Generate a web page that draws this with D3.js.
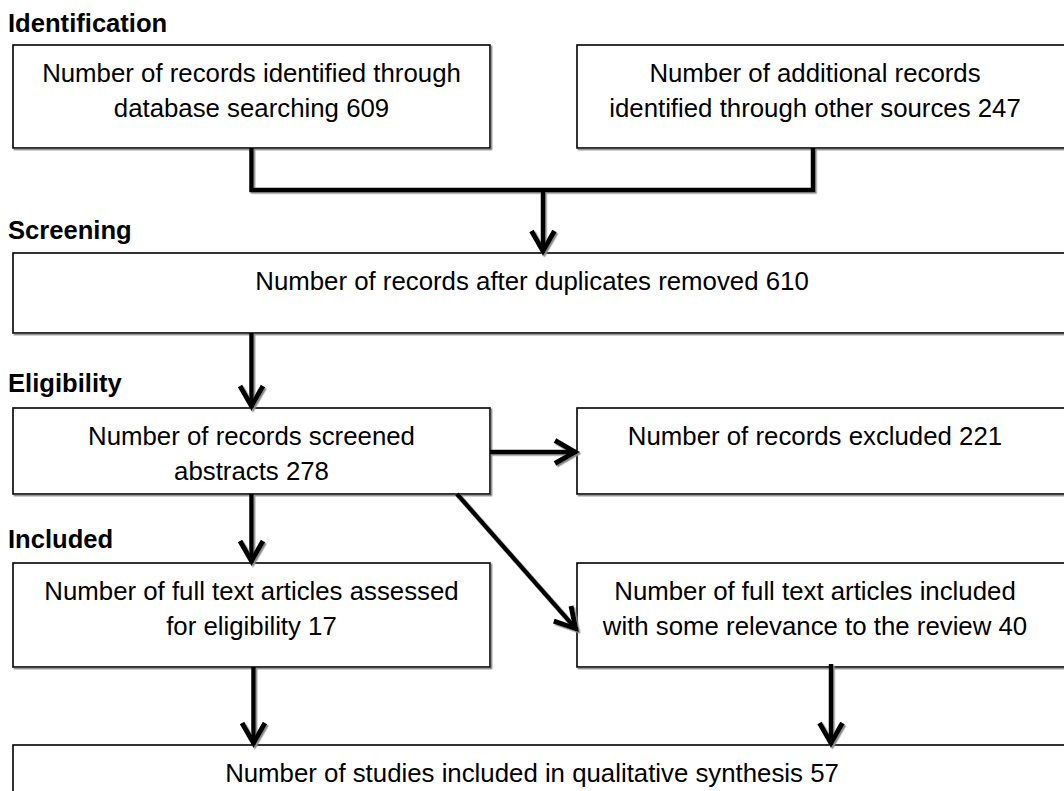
<!DOCTYPE html>
<html>
<head>
<meta charset="utf-8">
<script src="https://cdn.jsdelivr.net/npm/d3@7"></script>
<style>
  body { margin: 0; background: #fff; }
  svg { display: block; }
</style>
</head>
<body>
<div id="chart"></div>
<script>
// stage headings
var stages = ["Identification", "Screening", "Eligibility", "Included"];

// box texts (the count is added to the last line)
var boxIds = ["db", "other", "dedup", "screened", "excluded", "assessed", "relevant", "synthesis"];
var boxLines = [
  ["Number of records identified through", "database searching"],
  ["Number of additional records", "identified through other sources"],
  ["Number of records after duplicates removed"],
  ["Number of records screened", "abstracts"],
  ["Number of records excluded"],
  ["Number of full text articles assessed", "for eligibility"],
  ["Number of full text articles included", "with some relevance to the review"],
  ["Number of studies included in qualitative synthesis"]
];
var boxCounts = [609, 247, 610, 278, 221, 17, 40, 57];

// flow links between boxes
var links = [
  ["dedup", "screened"],
  ["screened", "excluded"],
  ["screened", "relevant"],
  ["screened", "assessed"],
  ["assessed", "synthesis"],
  ["relevant", "synthesis"]
];

function init() {
  var w = 1064, h = 791;

  var svg = d3.select("#chart").append("svg")
    .attr("width", w)
    .attr("height", h);

  var defs = svg.append("defs");

  var shadow = defs.append("filter")
    .attr("id", "shadow")
    .attr("x", "-10%").attr("y", "-10%")
    .attr("width", "130%").attr("height", "130%");
  shadow.append("feDropShadow")
    .attr("dx", 1.5).attr("dy", 1.5)
    .attr("stdDeviation", 0.6)
    .attr("flood-color", "#8a8a8a")
    .attr("flood-opacity", 1);

  defs.append("marker")
    .attr("id", "head")
    .attr("markerUnits", "userSpaceOnUse")
    .attr("viewBox", "-26 -15 32 30")
    .attr("markerWidth", 32).attr("markerHeight", 30)
    .attr("refX", 2).attr("refY", 0)
    .attr("orient", "auto")
    .append("path")
    .attr("d", "M-20,-11.5L0,0L-20,11.5")
    .attr("fill", "none")
    .attr("stroke", "#000")
    .attr("stroke-width", 5);

  // layout: columns and rows
  var cols = {
    left:  {x0: 13,  x1: 490,  tx: 251.5},
    right: {x0: 577, x1: 1070, tx: 815},
    wide:  {x0: 13,  x1: 1070, tx: 532}
  };
  var rows = [
    {y0: 45,  y1: 148},
    {y0: 253, y1: 333},
    {y0: 408, y1: 494},
    {y0: 563, y1: 667},
    {y0: 745, y1: 800}
  ];
  var stageBase = [32, 239, 392, 548];

  var place = {
    db: ["left", 0], other: ["right", 0],
    dedup: ["wide", 1],
    screened: ["left", 2], excluded: ["right", 2],
    assessed: ["left", 3], relevant: ["right", 3],
    synthesis: ["wide", 4]
  };

  var boxes = boxIds.map(function(id, i) {
    var c = cols[place[id][0]], r = rows[place[id][1]];
    var lines = boxLines[i].slice();
    lines[lines.length - 1] = lines[lines.length - 1] + " " + boxCounts[i];
    return {id: id, x0: c.x0, x1: c.x1, y0: r.y0, y1: r.y1, tx: c.tx, lines: lines};
  });
  var byId = {};
  boxes.forEach(function(b) { byId[b.id] = b; });

  // stage headings
  svg.selectAll("text.stage")
    .data(stages)
    .enter()
    .append("text")
    .attr("class", "stage")
    .attr("x", 8)
    .attr("y", function(d, i) { return stageBase[i]; })
    .attr("font-family", "Liberation Sans, Arial, sans-serif")
    .attr("font-weight", "bold")
    .attr("font-size", 25.6)
    .attr("fill", "#000")
    .text(function(d) { return d; });

  // boxes
  var g = svg.selectAll("g.box")
    .data(boxes)
    .enter()
    .append("g")
    .attr("class", "box");

  g.append("rect")
    .attr("x", function(d) { return d.x0; })
    .attr("y", function(d) { return d.y0; })
    .attr("width", function(d) { return d.x1 - d.x0; })
    .attr("height", function(d) { return d.y1 - d.y0; })
    .attr("fill", "#fff")
    .attr("stroke", "#000")
    .attr("stroke-width", 1.6)
    .attr("filter", "url(#shadow)");

  g.each(function(d) {
    d3.select(this).selectAll("text")
      .data(d.lines)
      .enter()
      .append("text")
      .attr("x", d.tx)
      .attr("y", function(t, j) { return d.y0 + 36.5 + j * 35; })
      .attr("text-anchor", "middle")
      .attr("font-family", "Liberation Sans, Arial, sans-serif")
      .attr("font-size", 25.8)
      .attr("fill", "#000")
      .text(function(t) { return t; });
  });

  var line = d3.line();
  var conn = svg.append("g")
    .attr("fill", "none")
    .attr("stroke", "#000")
    .attr("stroke-width", 4.5)
    .attr("filter", "url(#shadow)");

  // merge of the two identification boxes
  var a = byId.db, b = byId.other, c = byId.dedup;
  var ax = (a.x0 + a.x1) / 2, bx = 813, my = 190, dx = 543;
  conn.append("path")
    .attr("d", line([[ax, a.y1], [ax, my], [bx, my], [bx, b.y1]]))
    .attr("stroke-linejoin", "miter");
  conn.append("path")
    .attr("d", line([[dx, my], [dx, c.y0]]))
    .attr("marker-end", "url(#head)");

  // other links
  function endpoints(l) {
    var s = byId[l[0]], t = byId[l[1]];
    if (l[1] === "excluded") return [[s.x1, 452], [t.x0, 452]];
    if (l[1] === "relevant") return [[457, s.y1], [t.x0, 630]];
    if (l[0] === "relevant") return [[831, s.y1 - 3], [831, t.y0]];
    var x = (s.x0 + 490) / 2 + (l[0] === "assessed" ? 2 : 0);
    return [[x, s.y1], [x, t.y0]];
  }

  conn.selectAll("path.link")
    .data(links)
    .enter()
    .append("path")
    .attr("class", "link")
    .attr("d", function(d) { return line(endpoints(d)); })
    .attr("marker-end", "url(#head)");
}

window.onload = init;
</script>
</body>
</html>
